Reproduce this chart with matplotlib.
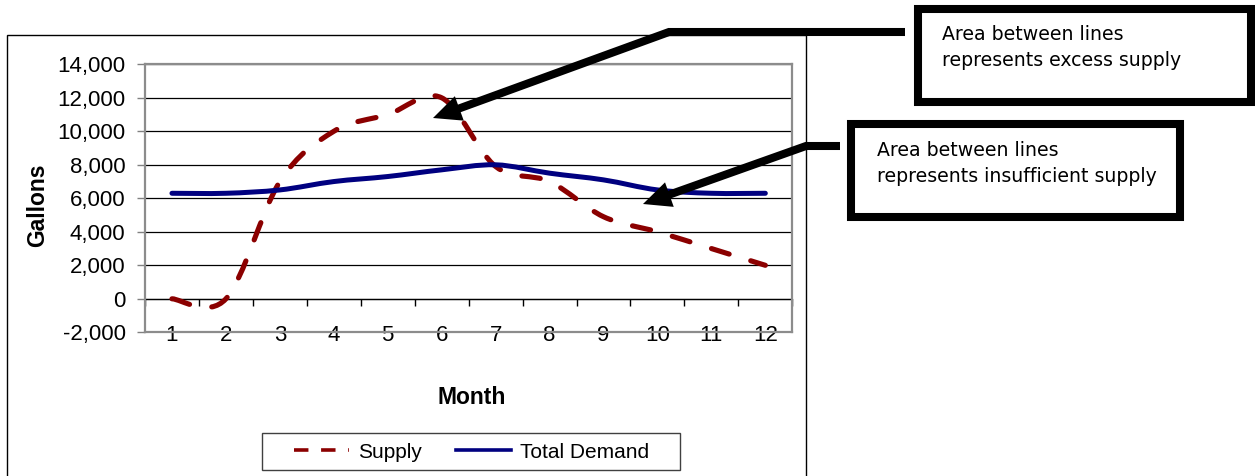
import numpy as np
import matplotlib.pyplot as plt
from matplotlib.path import Path
from matplotlib.patches import PathPatch, Rectangle, Polygon
from matplotlib.lines import Line2D
from matplotlib.ticker import FuncFormatter

plt.rcParams["font.family"] = ["Liberation Sans", "DejaVu Sans"]

months = list(range(1, 13))
supply = [0, 0, 7000, 10000, 11000, 12000, 7900, 7000, 4900, 4000, 3000, 2000]
total_demand = [6300, 6300, 6500, 7000, 7300, 7700, 8000, 7500, 7100, 6500, 6300, 6300]
y_ticks = list(range(-2000, 14001, 2000))

W, H = 1255, 476
SUPPLY_COLOR = "#8b0000"
DEMAND_COLOR = "#000080"


def px(x, y):
    # pixel position (origin top-left) -> figure fraction
    return x / W, 1 - y / H


def smooth_path(xs, ys):
    # cubic bezier segments with catmull-rom tangents (spreadsheet-style smoothing)
    pts = np.column_stack([xs, ys]).astype(float)
    n = len(pts)
    verts = [pts[0]]
    codes = [Path.MOVETO]
    for i in range(n - 1):
        p0 = pts[max(i - 1, 0)]
        p1 = pts[i]
        p2 = pts[i + 1]
        p3 = pts[min(i + 2, n - 1)]
        verts += [p1 + (p2 - p0) / 6, p2 - (p3 - p1) / 6, p2]
        codes += [Path.CURVE4] * 3
    return Path(verts, codes)


def fig_polyline(fig, pts, lw, **kw):
    xs, ys = zip(*[px(x, y) for x, y in pts])
    fig.add_artist(Line2D(xs, ys, transform=fig.transFigure, lw=lw,
                          color="black", solid_joinstyle="miter",
                          solid_capstyle="butt", **kw))


def fig_box(fig, x0, y0, x1, y1, **kw):
    (fx0, fy1), (fx1, fy0) = px(x0, y0), px(x1, y1)
    fig.add_artist(Rectangle((fx0, fy0), fx1 - fx0, fy1 - fy0,
                             transform=fig.transFigure, facecolor="white",
                             joinstyle="miter", **kw))


def fig_arrow(fig, pts, head_len=28, head_w=13, lw=5.8):
    tip = np.array(pts[-1], float)
    prev = np.array(pts[-2], float)
    u = (tip - prev) / np.linalg.norm(tip - prev)
    n = np.array([-u[1], u[0]])
    base = tip - u * head_len
    fig_polyline(fig, list(pts[:-1]) + [tuple(base + u * 2)], lw)
    corners = [tip, base + n * head_w, base - n * head_w]
    fig.add_artist(Polygon([px(*c) for c in corners], closed=True,
                           transform=fig.transFigure, color="black", lw=0))


fig = plt.figure(figsize=(W / 100, H / 100), dpi=100)

# outer chart frame
fig_polyline(fig, [(7, 480), (7, 35), (806, 35), (806, 480)], lw=1.0)

ax = fig.add_axes([145 / W, 1 - 332.3 / H, (792.3 - 145) / W, (332.3 - 64.3) / H])
ax.set_xlim(0.5, 12.5)
ax.set_ylim(-2000, 14000)
ax.set_yticks(y_ticks)
ax.yaxis.set_major_formatter(FuncFormatter(lambda v, _: f"{v:,.0f}"))
ax.set_xticks(months)
ax.grid(axis="y", color="black", lw=0.9)
ax.set_axisbelow(True)
for s in ax.spines.values():
    s.set_color("#8c8c8c")
    s.set_linewidth(1.6)
ax.tick_params(axis="y", length=6, width=1, color="#808080", labelsize=16, pad=8)
ax.tick_params(axis="x", length=0, labelsize=16, pad=-5)

# category axis crossing at zero with tick marks between months
secax = ax.secondary_xaxis(0.125)
secax.set_xticks(np.arange(0.5, 12.6, 1))
secax.tick_params(length=5, width=1, color="black", labelbottom=False)
secax.spines["bottom"].set_color("black")
secax.spines["bottom"].set_linewidth(0.9)

supply_patch = PathPatch(smooth_path(months, supply), fill=False,
                         edgecolor=SUPPLY_COLOR, lw=3.7, zorder=3)
supply_patch.set_linestyle((0, (3.6, 4.4)))
supply_patch.set_capstyle("round")
ax.add_patch(supply_patch)
demand_patch = PathPatch(smooth_path(months, total_demand), fill=False,
                         edgecolor=DEMAND_COLOR, lw=3.6, zorder=4, capstyle="round")
ax.add_patch(demand_patch)

fig.text(*px(38, 205), "Gallons", rotation=90, fontsize=16.5, fontweight="bold",
         ha="center", va="center")
fig.text(*px(472, 398), "Month", fontsize=16.5, fontweight="bold",
         ha="center", va="center")

# legend with a plain rectangular frame
fig_box(fig, 262, 433, 680, 470, edgecolor="#404040", lw=1.0)
handles = [
    Line2D([], [], color=SUPPLY_COLOR, lw=2.6, linestyle=(0, (4, 3.5))),
    Line2D([], [], color=DEMAND_COLOR, lw=2.6),
]
fig.legend(handles, ["Supply", "Total Demand"], loc="center",
           bbox_to_anchor=px(471.5, 452), ncol=2, fontsize=15,
           frameon=False, handlelength=2.65, columnspacing=1.6,
           handletextpad=0.45, borderpad=0, borderaxespad=0)

# annotation boxes
fig_box(fig, 918, 9, 1251, 102, edgecolor="black", lw=5.8)
fig_box(fig, 851, 124, 1180, 217, edgecolor="black", lw=5.8)

note_font = dict(fontsize=13.6, family="DejaVu Sans", ha="left", va="center")
fig.text(*px(942, 34), "Area between lines", **note_font)
fig.text(*px(942, 61), "represents excess supply", **note_font)
fig.text(*px(877, 150), "Area between lines", **note_font)
fig.text(*px(877, 177), "represents insufficient supply", **note_font)

fig_arrow(fig, [(905, 32), (669, 32), (433, 118)])
fig_arrow(fig, [(840, 146), (806, 146), (643, 204)])

fig.savefig("out.png", dpi=100)
